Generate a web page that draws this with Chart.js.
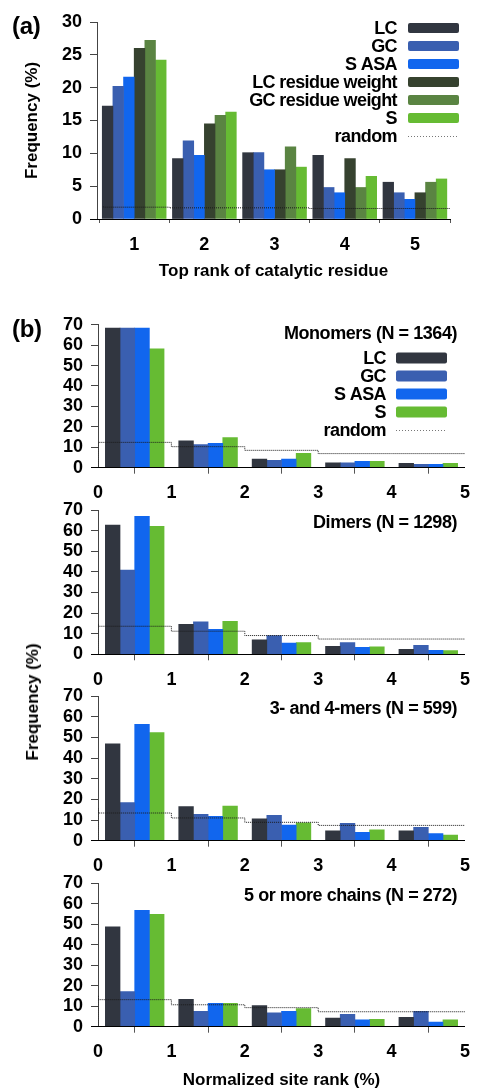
<!DOCTYPE html>
<html>
<head>
<meta charset="utf-8">
<title>Catalytic residue ranks</title>
<script src="https://cdn.jsdelivr.net/npm/chart.js@4.4.1/dist/chart.umd.min.js"></script>
<style>
  body { margin: 0; background: #fff; font-family: "Liberation Sans", Arial, sans-serif; }
  #page { position: relative; width: 479px; height: 1091px; overflow: hidden; }
  canvas { position: absolute; left: 0; }
  .tag { position: absolute; font-weight: bold; font-size: 24px; line-height: 26px; letter-spacing: -0.3px; }
  .title { position: absolute; right: 22px; font-weight: bold; font-size: 18px; line-height: 20px;
           letter-spacing: -0.45px; white-space: nowrap; }
  .ylab { position: absolute; font-weight: bold; font-size: 17px; line-height: 20px; white-space: nowrap;
          transform: translate(-50%, -50%) rotate(-90deg); }
</style>
</head>
<body>
<div id="page">
  <canvas id="rankChart" width="479" height="282" style="top:0"></canvas>
  <canvas id="monoChart" width="479" height="204" style="top:300px"></canvas>
  <canvas id="dimerChart" width="479" height="204" style="top:490px"></canvas>
  <canvas id="oligoChart" width="479" height="204" style="top:676px"></canvas>
  <canvas id="bigChart" width="479" height="228" style="top:863px"></canvas>

  <div class="tag" style="left:12px;top:13px">(a)</div>
  <div class="tag" style="left:12px;top:316px">(b)</div>
  <div class="title" style="top:323px">Monomers (N = 1364)</div>
  <div class="title" style="top:512px">Dimers (N = 1298)</div>
  <div class="title" style="top:698px">3- and 4-mers (N = 599)</div>
  <div class="title" style="top:885px">5 or more chains (N = 272)</div>
  <div class="ylab" style="left:33px;top:702px">Frequency (%)</div>
</div>

<script>
// (a) top rank of catalytic residue
const ranks    = [1, 2, 3, 4, 5];
const rankLC   = [17.2, 9.2, 10.1, 9.7, 5.6];
const rankGC   = [20.2, 11.9, 10.1, 4.8, 4.0];
const rankSASA = [21.6, 9.7, 7.5, 4.0, 3.0];
const rankLCw  = [26.0, 14.5, 7.5, 9.2, 4.0];
const rankGCw  = [27.2, 15.8, 11.0, 4.8, 5.6];
const rankS    = [24.2, 16.3, 7.9, 6.5, 6.1];
const rankRandom  = [1.9, 1.8, 1.7, 1.7, 1.6];
const rankRandomX = [0.56, 1.5, 2.5, 3.5, 4.5, 5.5]; // step edges

// (b) normalized site rank, bins of 1%
const binStart = [0, 1, 2, 3, 4];
const monoLC     = [68.4, 13.2, 4.2, 2.4, 2.1];
const monoGC     = [68.4, 11.3, 3.6, 2.4, 1.6];
const monoSASA   = [68.4, 11.9, 4.2, 3.1, 1.6];
const monoS      = [58.2, 14.8, 7.0, 3.1, 2.1];
const monoRandom = [11.6, 12.4, 10.3, 8.5, 6.9];

const dimerLC     = [62.7, 14.5, 7.0, 3.9, 2.4];
const dimerGC     = [40.9, 15.8, 9.1, 5.7, 4.4];
const dimerSASA   = [66.9, 12.1, 5.5, 3.4, 1.9];
const dimerS      = [62.1, 16.0, 5.7, 3.6, 1.8];
const dimerRandom = [14.7, 13.6, 11.2, 9.1, 7.4];

const oligoLC     = [46.9, 16.5, 10.6, 4.8, 4.8];
const oligoGC     = [18.5, 12.7, 12.3, 8.4, 6.5];
const oligoSASA   = [56.3, 11.8, 7.6, 4.0, 3.4];
const oligoS      = [52.3, 16.8, 8.7, 5.3, 2.7];
const oligoRandom = [15.6, 13.4, 11.0, 8.9, 7.4];

const bigLC     = [48.7, 13.3, 10.3, 4.2, 4.6];
const bigGC     = [17.1, 7.5, 6.8, 6.0, 7.5];
const bigSASA   = [56.8, 11.4, 7.5, 3.4, 2.3];
const bigS      = [54.9, 11.4, 8.8, 3.6, 3.3];
const bigRandom = [15.3, 13.2, 10.7, 9.3, 7.3];

const colLC = '#313640', colGC = '#3a5fb0', colSASA = '#1166ee';
const colLCw = '#36422f', colGCw = '#5a8442', colS = '#66bb33', colRandom = '#1a1a1a';

Chart.defaults.font.family = '"Liberation Sans", Arial, sans-serif';
Chart.defaults.font.size = 18;
Chart.defaults.font.weight = 'bold';
Chart.defaults.color = '#000';
Chart.defaults.animation = false;
Chart.defaults.plugins.legend.display = false;
Chart.defaults.plugins.tooltip.enabled = false;

// legend with the text on the left and the swatch on the right
const sideLegend = {
  id: 'sideLegend',
  afterDraw(chart, args, opts) {
    if (!opts.show) return;
    const ctx = chart.ctx;
    ctx.save();
    ctx.font = 'bold 18px "Liberation Sans", Arial, sans-serif';
    ctx.letterSpacing = '-0.6px';
    ctx.textAlign = 'right';
    ctx.textBaseline = 'middle';
    chart.data.datasets.forEach((ds, i) => {
      const y = opts.top + i * opts.rowH;
      ctx.fillStyle = '#000';
      ctx.fillText(ds.label, opts.boxX - opts.gap, y + 1);
      if (ds.type === 'line') {
        ctx.strokeStyle = '#777';
        ctx.lineWidth = 1;
        ctx.setLineDash([1, 2]);
        ctx.beginPath();
        ctx.moveTo(opts.boxX, Math.round(y) + 0.5);
        ctx.lineTo(opts.boxX + opts.boxW, Math.round(y) + 0.5);
        ctx.stroke();
      } else {
        ctx.fillStyle = ds.backgroundColor;
        ctx.beginPath();
        ctx.roundRect(opts.boxX, y - opts.boxH / 2, opts.boxW, opts.boxH, 2);
        ctx.fill();
      }
    });
    ctx.restore();
  }
};
Chart.register(sideLegend);

function randomLine(points) {
  return {
    type: 'line', label: 'random', data: points,
    stepped: 'after', borderColor: colRandom, borderWidth: 1, borderDash: [1, 1],
    pointRadius: 0, fill: false, order: -1
  };
}

function barSet(label, color, pts) {
  return { label: label, backgroundColor: color, grouped: false, barPercentage: 1, categoryPercentage: 1, data: pts };
}

// y tick at zero is part of the black baseline
const yTickColor = c => (c.tick && c.tick.value === 0 ? '#000' : '#444');

// ---------- (a) ----------
const rankSeries = [
  ['LC', rankLC, colLC], ['GC', rankGC, colGC], ['S ASA', rankSASA, colSASA],
  ['LC residue weight', rankLCw, colLCw], ['GC residue weight', rankGCw, colGCw], ['S', rankS, colS]
];
const slot = 0.91 / rankSeries.length;   // six bars share 91% of a rank
const rankDatasets = rankSeries.map(([label, vals, color], i) =>
  barSet(label, color, vals.map((v, k) => ({ x: ranks[k] + (i - 2.5) * slot, y: v }))));
rankDatasets.push(randomLine(rankRandomX.map((x, i) =>
  ({ x: x, y: rankRandom[Math.min(i, rankRandom.length - 1)] }))));

new Chart(document.getElementById('rankChart'), {
  type: 'bar',
  data: { datasets: rankDatasets },
  options: {
    responsive: false,
    layout: { padding: { top: 22, right: 29, bottom: 0, left: 0 } },
    scales: {
      x: {
        type: 'linear', min: 0.47, max: 5.5, offset: false,
        afterFit: s => { s.height = 63; },
        grid: { drawOnChartArea: false, tickLength: 4, tickColor: '#555', z: 1 },
        border: { color: '#000', width: 1, z: 1 },
        ticks: { stepSize: 1, padding: 11, includeBounds: false },
        title: { display: true, text: 'Top rank of catalytic residue', font: { size: 17 }, padding: { top: 0, bottom: 0 } }
      },
      y: {
        min: 0, max: 30,
        afterFit: s => { s.width = 97; },
        ticks: { stepSize: 5, padding: 8, autoSkip: false },
        grid: { drawOnChartArea: false, tickLength: 7, tickColor: yTickColor },
        border: { color: '#444' },
        title: { display: true, text: 'Frequency (%)', font: { size: 17 }, padding: { top: 22, bottom: 0 } }
      }
    },
    plugins: { sideLegend: { show: true, boxX: 408, boxW: 51, boxH: 10, top: 28, rowH: 18, gap: 11 } }
  }
});

// ---------- (b) ----------
function siteChart(id, lc, gc, sasa, s, rnd, frame) {
  const series = [['LC', lc, colLC], ['GC', gc, colGC], ['S ASA', sasa, colSASA], ['S', s, colS]];
  const datasets = series.map(([label, vals, color], i) =>
    barSet(label, color, vals.map((v, k) => ({ x: binStart[k] + 0.2 * (i + 1), y: v }))));
  const steps = [{ x: 0, y: 0 }]
    .concat(rnd.map((v, k) => ({ x: binStart[k], y: v })))
    .concat([{ x: 5, y: rnd[rnd.length - 1] }]);
  datasets.push(randomLine(steps));

  const canvas = document.getElementById(id);
  const top = canvas.offsetTop;
  const padTop = frame.chartTop - top;
  const padBottom = top + canvas.height - frame.chartBottom - frame.xH;

  new Chart(canvas, {
    type: 'bar',
    data: { datasets: datasets },
    options: {
      responsive: false,
      layout: { padding: { top: padTop, right: 11, bottom: padBottom, left: 0 } },
      scales: {
        x: {
          type: 'linear', min: 0, max: 5, offset: false,
          afterFit: sc => { sc.height = frame.xH; },
          ticks: { stepSize: 1, padding: 9 },
          grid: { drawOnChartArea: false, tickLength: 6, tickColor: '#555', z: 1 },
          border: { color: '#000', width: 1, z: 1 },
          title: frame.xTitle
            ? { display: true, text: frame.xTitle, font: { size: 17 }, padding: { top: 0, bottom: 0 } }
            : { display: false }
        },
        y: {
          min: 0, max: 70,
          afterFit: sc => { sc.width = 98; },
          ticks: { stepSize: 10, padding: 8, autoSkip: false },
          grid: { drawOnChartArea: false, tickLength: 7, tickColor: yTickColor },
          border: { color: '#444' }
        }
      },
      plugins: { sideLegend: frame.legend || { show: false } }
    }
  });
}

siteChart('monoChart', monoLC, monoGC, monoSASA, monoS, monoRandom, {
  chartTop: 324.7, chartBottom: 467.7, xH: 36,
  legend: { show: true, boxX: 396, boxW: 51, boxH: 11, top: 58, rowH: 18, gap: 10 }
});
siteChart('dimerChart', dimerLC, dimerGC, dimerSASA, dimerS, dimerRandom, {
  chartTop: 510, chartBottom: 654.3, xH: 36
});
siteChart('oligoChart', oligoLC, oligoGC, oligoSASA, oligoS, oligoRandom, {
  chartTop: 696, chartBottom: 840.7, xH: 36
});
siteChart('bigChart', bigLC, bigGC, bigSASA, bigS, bigRandom, {
  chartTop: 883.3, chartBottom: 1026.7, xH: 64, xTitle: 'Normalized site rank (%)'
});
</script>
</body>
</html>
